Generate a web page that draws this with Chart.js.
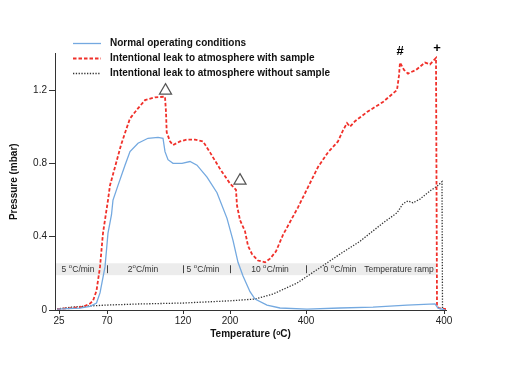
<!DOCTYPE html>
<html>
<head>
<meta charset="utf-8">
<script src="https://cdn.jsdelivr.net/npm/chart.js@4.4.1/dist/chart.umd.min.js"></script>
<style>
  html, body { margin: 0; padding: 0; background: #fff; }
  canvas { display: block; }
</style>
</head>
<body>
<canvas id="pressureChart" width="510" height="375"></canvas>
<script>
// x is position along the heating programme (not linear in temperature)
var tickPositions = [4, 52, 128, 175, 251, 389];
var tickLabels = ['25', '70', '120', '200', '400', '400'];
var yTicks = [0, 0.4, 0.8, 1.2];
var yTickLabels = ['0', '0.4', '0.8', '1.2'];

var seriesNames = [
  'Normal operating conditions',
  'Intentional leak to atmosphere with sample',
  'Intentional leak to atmosphere without sample'
];

// Normal operating conditions
var normalX = [2, 25, 35, 41.5, 45, 50, 53, 56.5, 58, 63, 70, 75, 83, 93, 103, 108, 110, 113, 118,
  127, 135, 142, 152, 162, 172, 178, 183, 188, 195, 200, 212, 225, 252, 285, 318, 352, 380, 383, 390];
var normalY = [0.005, 0.01, 0.02, 0.038, 0.093, 0.235, 0.42, 0.52, 0.60, 0.68, 0.79, 0.864, 0.91, 0.937, 0.942, 0.937, 0.864, 0.82, 0.80,
  0.80, 0.81, 0.79, 0.725, 0.64, 0.50, 0.38, 0.26, 0.185, 0.10, 0.06, 0.027, 0.011, 0.005, 0.011, 0.016, 0.027, 0.033, 0.01, 0];

// Leak with sample
var leakX = [2, 15, 28, 35, 38, 41.5, 45, 48, 53, 55, 61.5, 66, 71.5, 75, 83, 90, 100, 110, 111, 111.7,
  115, 118, 125, 132, 140, 148, 155, 165, 175, 181, 182, 185, 190, 193, 197, 203, 210, 215, 221,
  228, 235, 243, 253, 263, 273, 283, 288, 292, 295, 300, 312, 328, 342, 344, 345, 349, 353, 361, 370,
  375, 381, 382, 384, 391];
var leakY = [0.005, 0.01, 0.017, 0.035, 0.05, 0.105, 0.235, 0.42, 0.60, 0.68, 0.81, 0.90, 0.99, 1.045, 1.10, 1.145, 1.16, 1.164, 1.08, 0.97,
  0.92, 0.90, 0.92, 0.93, 0.93, 0.92, 0.86, 0.77, 0.69, 0.655, 0.57, 0.49, 0.43, 0.35, 0.305, 0.27, 0.26, 0.28, 0.32,
  0.41, 0.48, 0.56, 0.67, 0.78, 0.86, 0.92, 0.98, 1.02, 1.00, 1.03, 1.08, 1.135, 1.20, 1.28, 1.35, 1.31, 1.29, 1.31, 1.35,
  1.34, 1.375, 0.02, 0.01, 0.005];

// Leak without sample
var noSampleX = [2, 15, 28, 52, 85, 128, 175, 200, 218, 242, 262, 285, 305, 328, 342, 348, 353, 358, 365, 375,
  382, 387, 387.5, 391];
var noSampleY = [0.005, 0.015, 0.02, 0.027, 0.033, 0.038, 0.05, 0.06, 0.087, 0.147, 0.22, 0.305, 0.375, 0.475, 0.53, 0.58, 0.595, 0.585, 0.605, 0.65,
  0.675, 0.70, 0.01, 0.005];

// heating-rate band ('°' is drawn as a raised small o)
var rampLabels = ['5 °C/min', '2°C/min', '5 °C/min', '10 °C/min', '0 °C/min', 'Temperature ramp'];
var rampLabelX = [23, 88, 148, 215, 285, 344];
var rampDividers = [52, 128, 175, 251];
var bandRange = [1, 381, 0.19, 0.255];

// open triangles and symbols
var triangleX = [110.5, 185];
var triangleY = [1.197, 0.706];
var symbolText = ['#', '+'];
var symbolX = [345, 382];
var symbolY = [1.41, 1.425];

function toPoints(xs, ys) {
  var pts = [];
  for (var i = 0; i < xs.length; i++) pts.push({ x: xs[i], y: ys[i] });
  return pts;
}

var fontFamily = '"Liberation Sans", Arial, sans-serif';

// draws text centred at cx, with any degree sign shown as a superscript o
function drawSupText(ctx, text, cx, cy) {
  var parts = text.split('°');
  var main = '8.5px ' + fontFamily, small = '6px ' + fontFamily;
  ctx.font = main;
  var w0 = ctx.measureText(parts[0]).width;
  var w2 = parts.length > 1 ? ctx.measureText(parts[1]).width : 0;
  ctx.font = small;
  var w1 = parts.length > 1 ? ctx.measureText('o').width + 0.3 : 0;
  var x = cx - (w0 + w1 + w2) / 2;
  ctx.textAlign = 'left';
  ctx.textBaseline = 'middle';
  ctx.font = main;
  ctx.fillText(parts[0], x, cy);
  if (parts.length > 1) {
    ctx.font = small;
    ctx.fillText('o', x + w0, cy - 3);
    ctx.font = main;
    ctx.fillText(parts[1], x + w0 + w1, cy);
  }
}

var overlayPlugin = {
  id: 'overlay',
  beforeDatasetsDraw: function (chart) {
    var ctx = chart.ctx;
    var xs = chart.scales.x, ys = chart.scales.y;
    var l = xs.getPixelForValue(bandRange[0]);
    var r = xs.getPixelForValue(bandRange[1]);
    var b = ys.getPixelForValue(bandRange[2]);
    var t = ys.getPixelForValue(bandRange[3]);
    ctx.save();
    ctx.fillStyle = '#ececec';
    ctx.fillRect(l, t, r - l, b - t);
    ctx.strokeStyle = '#444';
    ctx.lineWidth = 1;
    for (var i = 0; i < rampDividers.length; i++) {
      var dx = Math.round(xs.getPixelForValue(rampDividers[i])) + 0.5;
      ctx.beginPath();
      ctx.moveTo(dx, t + 2);
      ctx.lineTo(dx, b - 2);
      ctx.stroke();
    }
    ctx.fillStyle = '#333';
    for (var j = 0; j < rampLabels.length; j++) {
      drawSupText(ctx, rampLabels[j], xs.getPixelForValue(rampLabelX[j]), (t + b) / 2 + 0.5);
    }
    ctx.restore();
  },
  afterDraw: function (chart) {
    var ctx = chart.ctx;
    var xs = chart.scales.x, ys = chart.scales.y;
    ctx.save();
    // legend
    for (var i = 0; i < 3; i++) {
      var ds = chart.data.datasets[i];
      var ly = 43.5 + i * 15;
      ctx.strokeStyle = ds.borderColor;
      ctx.lineWidth = ds.borderWidth;
      ctx.setLineDash(ds.borderDash || []);
      ctx.beginPath();
      ctx.moveTo(73, ly);
      ctx.lineTo(101, ly);
      ctx.stroke();
      ctx.setLineDash([]);
      ctx.fillStyle = '#111';
      ctx.font = 'bold 10px ' + fontFamily;
      ctx.textAlign = 'left';
      ctx.textBaseline = 'middle';
      ctx.fillText(seriesNames[i], 110, ly);
    }
    // symbols
    ctx.font = 'bold 13px ' + fontFamily;
    ctx.textAlign = 'center';
    ctx.fillStyle = '#000';
    for (var k = 0; k < symbolText.length; k++) {
      ctx.fillText(symbolText[k], xs.getPixelForValue(symbolX[k]), ys.getPixelForValue(symbolY[k]));
    }
    ctx.restore();
  }
};

new Chart(document.getElementById('pressureChart').getContext('2d'), {
  type: 'line',
  data: {
    datasets: [{
      label: seriesNames[0],
      data: toPoints(normalX, normalY),
      borderColor: '#74a9e0',
      borderWidth: 1.3,
      pointRadius: 0,
      tension: 0
    }, {
      label: seriesNames[1],
      data: toPoints(leakX, leakY),
      borderColor: '#f0302a',
      borderWidth: 1.8,
      borderDash: [3.5, 2],
      pointRadius: 0,
      tension: 0
    }, {
      label: seriesNames[2],
      data: toPoints(noSampleX, noSampleY),
      borderColor: '#333',
      borderWidth: 1.3,
      borderDash: [1.3, 1.5],
      pointRadius: 0,
      tension: 0
    }, {
      label: 'markers',
      data: toPoints(triangleX, triangleY),
      showLine: false,
      pointStyle: 'triangle',
      pointRadius: 7,
      pointBorderColor: '#555',
      pointBackgroundColor: '#fff',
      pointBorderWidth: 1.2,
      clip: false
    }]
  },
  options: {
    responsive: false,
    animation: false,
    events: [],
    layout: { padding: { left: 0, top: 53.4, right: 64, bottom: 0 } },
    plugins: { legend: { display: false }, tooltip: { enabled: false } },
    scales: {
      x: {
        type: 'linear',
        min: 0,
        max: 391,
        afterFit: function (scale) { scale.height = 65; },
        afterBuildTicks: function (scale) {
          scale.ticks = tickPositions.map(function (v) { return { value: v }; });
        },
        ticks: {
          autoSkip: false,
          maxRotation: 0,
          padding: 1,
          color: '#222',
          font: { family: fontFamily, size: 10 },
          callback: function (value, index) { return tickLabels[index]; }
        },
        grid: { drawOnChartArea: false, tickLength: 4, color: '#333' },
        border: { color: '#333', width: 1 },
        title: {
          display: true,
          text: 'Temperature (\u1D52C)',
          color: '#111',
          font: { family: fontFamily, size: 10, weight: 'bold' },
          padding: { top: 0, bottom: 35 }
        }
      },
      y: {
        min: 0,
        max: 1.4,
        afterFit: function (scale) { scale.width = 55; },
        afterBuildTicks: function (scale) {
          scale.ticks = yTicks.map(function (v) { return { value: v }; });
        },
        ticks: {
          padding: 2,
          color: '#222',
          font: { family: fontFamily, size: 10 },
          callback: function (value, index) { return yTickLabels[index]; }
        },
        grid: { drawOnChartArea: false, tickLength: 6, color: '#333' },
        border: { color: '#333', width: 1 },
        title: {
          display: true,
          text: 'Pressure (mbar)',
          color: '#111',
          font: { family: fontFamily, size: 10, weight: 'bold' },
          padding: { top: 8, bottom: 0 }
        }
      }
    }
  },
  plugins: [overlayPlugin]
});
</script>
</body>
</html>
